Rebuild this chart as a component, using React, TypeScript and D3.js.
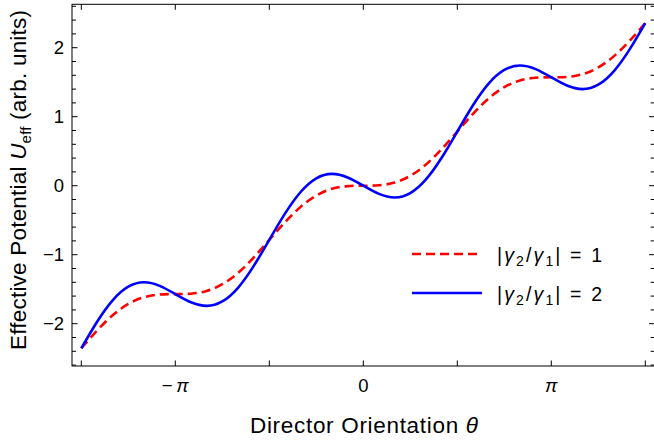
import { useEffect, useRef } from 'react';
import * as d3 from 'd3';

// director angle theta (rad), sampled every pi/12 from -3pi/2 to 3pi/2
const theta = [
  -4.712, -4.451, -4.189, -3.927, -3.665, -3.403, -3.142, -2.88, -2.618, -2.356, -2.094, -1.833, -1.571,
  -1.309, -1.047, -0.785, -0.524, -0.262, 0, 0.262, 0.524, 0.785, 1.047, 1.309, 1.571, 1.833, 2.094,
  2.356, 2.618, 2.88, 3.142, 3.403, 3.665, 3.927, 4.189, 4.451, 4.712,
];

// |g2/g1| = 1
const ratio1 = [
  -2.356, -2.1, -1.878, -1.714, -1.616, -1.577, -1.571, -1.565, -1.526, -1.428, -1.264, -1.041, -0.785,
  -0.53, -0.307, -0.143, -0.045, -0.006, 0, 0.006, 0.045, 0.143, 0.307, 0.53, 0.785, 1.041, 1.264, 1.428,
  1.526, 1.565, 1.571, 1.577, 1.616, 1.714, 1.878, 2.1, 2.356,
];

// |g2/g1| = 2
const ratio2 = [
  -2.356, -1.975, -1.661, -1.464, -1.4, -1.452, -1.571, -1.69, -1.742, -1.678, -1.48, -1.166, -0.785,
  -0.405, -0.091, 0.107, 0.171, 0.119, 0, -0.119, -0.171, -0.107, 0.091, 0.405, 0.785, 1.166, 1.48, 1.678,
  1.742, 1.69, 1.571, 1.452, 1.4, 1.464, 1.661, 1.975, 2.356,
];

const xTicks = [-1.5, -1, -0.5, 0, 0.5, 1, 1.5]; // multiples of pi
const yMajor = [-2, -1, 0, 1, 2];

const FONT = '"Liberation Sans", Arial, sans-serif';

export default function App() {
  const ref = useRef<SVGSVGElement>(null);

  useEffect(() => {
    const width = 654;
    const height = 440;
    const frame = { left: 72, right: 654.6, top: 4.3, bottom: 366 };
    const svg = d3.select(ref.current);
    svg.selectAll('*').remove();

    const x = d3.scaleLinear().domain([-4.868, 4.868]).range([frame.left, frame.right]);
    const y = d3.scaleLinear().domain([-2.613, 2.629]).range([frame.bottom, frame.top]);

    svg
      .append('defs')
      .append('clipPath')
      .attr('id', 'plot-clip')
      .append('rect')
      .attr('x', frame.left)
      .attr('y', frame.top)
      .attr('width', frame.right - frame.left)
      .attr('height', frame.bottom - frame.top);

    // frame
    svg
      .append('rect')
      .attr('x', frame.left)
      .attr('y', frame.top)
      .attr('width', frame.right - frame.left)
      .attr('height', frame.bottom - frame.top)
      .attr('fill', 'none')
      .attr('stroke', '#000')
      .attr('stroke-width', 1);

    // x ticks, bottom and top
    const ticks = svg.append('g').attr('stroke', '#000').attr('stroke-width', 1);
    xTicks.forEach((t) => {
      const px = x(t * Math.PI);
      ticks.append('line').attr('x1', px).attr('x2', px).attr('y1', frame.bottom).attr('y2', frame.bottom - 5.5);
      ticks.append('line').attr('x1', px).attr('x2', px).attr('y1', frame.top).attr('y2', frame.top + 5.5);
    });

    // y ticks, left and right
    const yMinor = d3.range(-13, 14).map((i) => i / 5);
    yMinor.forEach((v) => {
      const major = yMajor.some((m) => Math.abs(m - v) < 1e-6);
      const len = major ? 5.5 : 4;
      const py = y(v);
      ticks.append('line').attr('x1', frame.left).attr('x2', frame.left + len).attr('y1', py).attr('y2', py);
      ticks.append('line').attr('x1', frame.right).attr('x2', frame.right - len).attr('y1', py).attr('y2', py);
    });

    // x tick labels
    xTicks
      .filter((t) => Number.isInteger(t))
      .forEach((t) => {
        const txt = svg
          .append('text')
          .attr('x', x(t * Math.PI))
          .attr('y', 391.5)
          .attr('text-anchor', 'middle')
          .attr('font-family', FONT)
          .attr('font-size', 18.5)
          .attr('fill', '#000');
        if (t === 0) {
          txt.text('0');
        } else {
          if (t < 0) txt.append('tspan').text('\u2212\u2009');
          txt.append('tspan').attr('font-style', 'italic').text('\u03c0');
        }
      });

    // y tick labels
    svg
      .append('g')
      .selectAll('text')
      .data(yMajor)
      .join('text')
      .attr('x', 64)
      .attr('y', (v) => y(v) + 6.5)
      .attr('text-anchor', 'end')
      .attr('font-family', FONT)
      .attr('font-size', 18.5)
      .attr('fill', '#000')
      .text((v) => (v < 0 ? `\u2212${-v}` : `${v}`));

    // curves
    const line = d3
      .line<number>()
      .x((_, i) => x(theta[i]))
      .y((v) => y(v))
      .curve(d3.curveNatural);

    const plot = svg.append('g').attr('clip-path', 'url(#plot-clip)');
    plot
      .append('path')
      .attr('d', line(ratio1))
      .attr('fill', 'none')
      .attr('stroke', '#ff0000')
      .attr('stroke-width', 2.6)
      .attr('stroke-dasharray', '9 5');
    plot
      .append('path')
      .attr('d', line(ratio2))
      .attr('fill', 'none')
      .attr('stroke', '#0000ff')
      .attr('stroke-width', 2.6);

    // legend
    const legend = [
      { label: '1', color: '#ff0000', dash: '9 5', y: 254 },
      { label: '2', color: '#0000ff', dash: null, y: 293 },
    ];
    legend.forEach((item) => {
      svg
        .append('line')
        .attr('x1', 412)
        .attr('x2', 482)
        .attr('y1', item.y)
        .attr('y2', item.y)
        .attr('stroke', item.color)
        .attr('stroke-width', 2.6)
        .attr('stroke-dasharray', item.dash);
      const txt = svg
        .append('text')
        .attr('x', 497)
        .attr('y', item.y + 8)
        .attr('font-family', FONT)
        .attr('font-size', 19.5)
        .attr('fill', '#000')
        .attr('textLength', 105)
        .attr('lengthAdjust', 'spacing');
      txt.append('tspan').text('|');
      txt.append('tspan').attr('font-style', 'italic').text('\u03b3');
      txt.append('tspan').attr('font-size', 14).attr('dy', 4).text('2');
      txt.append('tspan').attr('dy', -4).text('/');
      txt.append('tspan').attr('font-style', 'italic').text('\u03b3');
      txt.append('tspan').attr('font-size', 14).attr('dy', 4).text('1');
      txt.append('tspan').attr('dy', -4).text(`| = ${item.label}`);
    });

    // axis titles
    const xt = svg
      .append('text')
      .attr('x', 250)
      .attr('y', 433)
      .attr('font-family', FONT)
      .attr('font-size', 22.5)
      .attr('fill', '#000')
      .attr('textLength', 228)
      .attr('lengthAdjust', 'spacing');
    xt.append('tspan').text('Director Orientation ');
    xt.append('tspan').attr('font-style', 'italic').text('\u03b8');

    const yt = svg
      .append('text')
      .attr('transform', `translate(25.5,350) rotate(-90)`)
      .attr('font-family', FONT)
      .attr('font-size', 22.5)
      .attr('fill', '#000')
      .attr('textLength', 340)
      .attr('lengthAdjust', 'spacing');
    yt.append('tspan').text('Effective Potential ');
    yt.append('tspan').attr('font-style', 'italic').text('U');
    yt.append('tspan').attr('font-size', 15).attr('dy', 5).text('eff');
    yt.append('tspan').attr('dy', -5).text(' (arb. units)');

    svg.attr('viewBox', `0 0 ${width} ${height}`);
  }, []);

  return (
    <svg
      ref={ref}
      width={654}
      height={440}
      style={{ position: 'absolute', left: 0, top: 0, background: '#fff' }}
    />
  );
}
